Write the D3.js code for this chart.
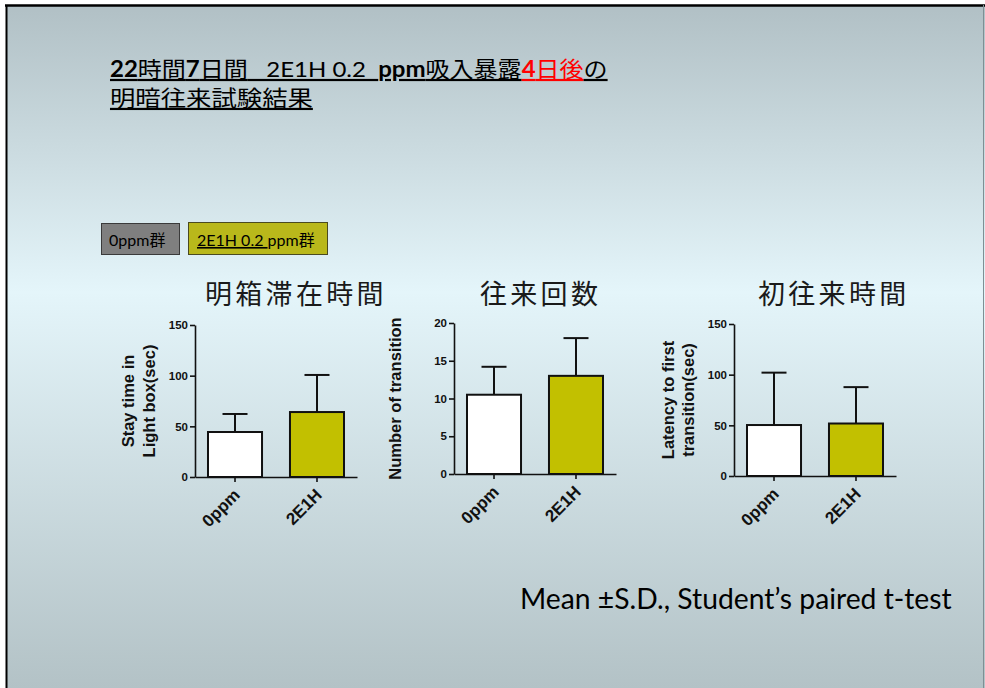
<!DOCTYPE html>
<html><head><meta charset="utf-8">
<script src="https://cdn.jsdelivr.net/npm/d3@7"></script>
<style>html,body{margin:0;padding:0;background:#fff;overflow:hidden}</style>
</head><body>
<svg id="c" width="985" height="688"></svg>
<script>
// ---- data ----
const categories = ["0ppm", "2E1H"];
const panelTitles = ["明箱滞在時間", "往来回数", "初往来時間"];
const yLabels = [["Stay time in", "Light box(sec)"], ["Number of transition"], ["Latency to first", "transition(sec)"]];
const yMax = [150, 20, 150];
const yTicks = [[0, 50, 100, 150], [0, 5, 10, 15, 20], [0, 50, 100, 150]];
const stayMean = [44.4, 64.1];
const staySD = [17.8, 36.6];
const transMean = [10.5, 13.0];
const transSD = [3.7, 5.0];
const latencyMean = [50.3, 51.8];
const latencySD = [51.7, 35.9];
const legendLabels = ["0ppm群", "2E1H 0.2 ppm群"];
const footerText = "Mean ±S.D., Student’s paired t-test";

const means = [stayMean, transMean, latencyMean];
const sds = [staySD, transSD, latencySD];

// ---- layout ----
const W = 985, H = 688;
const panels = [
  {x: 195, top: 325, bottom: 477, titleX: 205, labelX: [-62, -41]},
  {x: 454, top: 323, bottom: 474, titleX: 480, labelX: [-54]},
  {x: 734, top: 324, bottom: 476, titleX: 758, labelX: [-61, -41]}
];
const plotW = 162;
const barFill = ["#ffffff", "#c2c000"];
const ink = "#111";

const svg = d3.select("#c");
const defs = svg.append("defs");
const grad = defs.append("linearGradient").attr("id", "bg").attr("x1", 0).attr("y1", 0).attr("x2", 0).attr("y2", 1);
grad.append("stop").attr("offset", "0%").attr("stop-color", "#b1c0c5");
grad.append("stop").attr("offset", "42%").attr("stop-color", "#e4f5fa");
grad.append("stop").attr("offset", "100%").attr("stop-color", "#b3c2c6");

svg.append("rect").attr("width", W).attr("height", H).attr("fill", "#fff");
svg.append("rect").attr("x", 6).attr("y", 5).attr("width", W - 6).attr("height", H - 5).attr("fill", "url(#bg)");
svg.append("line").attr("x1", 5).attr("x2", W).attr("y1", 5.5).attr("y2", 5.5).attr("stroke", "#000").attr("stroke-width", 2.5);
svg.append("line").attr("x1", 6.5).attr("x2", 6.5).attr("y1", 5).attr("y2", H).attr("stroke", "#000").attr("stroke-width", 2);
svg.append("line").attr("x1", 983.5).attr("x2", 983.5).attr("y1", 5).attr("y2", H).attr("stroke", "#7f8f94").attr("stroke-width", 1);

// ---- header ----
const cjk = "Lato, 'Noto Sans CJK JP', sans-serif";
function fitX(sel, x0, target) {
  const w = sel.node().getComputedTextLength();
  const k = target / w;
  sel.attr("transform", `translate(${x0},0) scale(${k},1) translate(${-x0},0)`);
}
const h1 = svg.append("text").attr("x", 110).attr("y", 77).attr("font-family", cjk).attr("font-size", 22).attr("fill", "#000")
  .style("white-space", "pre");
const segs = [
  ["22", true, "#000"], ["時間", false, "#000"], ["7", true, "#000"], ["日間", false, "#000"],
  ["\u00a0\u00a0 2E1H 0.2 \u00a0", false, "#000"], ["ppm", true, "#000"], ["吸入暴露", false, "#000"],
  ["4", true, "#ff0000"], ["日後", false, "#ff0000"], ["の", false, "#000"]
];
segs.forEach(s => h1.append("tspan").text(s[0]).attr("font-weight", s[1] ? "bold" : "normal")
  .attr("fill", s[2]).style("text-decoration", "underline"));
fitX(h1, 110, 498);
const h2 = svg.append("text").attr("x", 110).attr("y", 106).attr("font-family", cjk).attr("font-size", 22).attr("fill", "#000")
  .style("text-decoration", "underline").text("明暗往来試験結果");
fitX(h2, 110, 203);

// ---- legend ----
const legBoxes = [{x: 101, y: 223, w: 78, h: 31, fill: "#7f7f7f", stroke: "#3a3a3a"},
                  {x: 188, y: 222, w: 139, h: 32, fill: "#b9b81b", stroke: "#4a4a20"}];
legBoxes.forEach((b, i) => {
  svg.append("rect").attr("x", b.x + 0.5).attr("y", b.y + 0.5).attr("width", b.w).attr("height", b.h)
    .attr("fill", b.fill).attr("stroke", b.stroke).attr("stroke-width", 1);
});
svg.append("text").attr("x", 109).attr("y", 246).attr("font-family", cjk).attr("font-size", 16).attr("fill", "#000").text(legendLabels[0]);
const lt = svg.append("text").attr("x", 197).attr("y", 246).attr("font-family", cjk).attr("font-size", 16).attr("fill", "#000").style("white-space", "pre");
lt.append("tspan").text("2E1H 0.2 ").style("text-decoration", "underline");
lt.append("tspan").text(legendLabels[1].replace("2E1H 0.2 ", ""));

// ---- panels ----
panels.forEach((p, i) => {
  const g = svg.append("g");
  const x = d3.scaleBand().domain(categories).range([p.x, p.x + plotW]).paddingInner(0.341).paddingOuter(0.1585);
  const y = d3.scaleLinear().domain([0, yMax[i]]).range([p.bottom, p.top]);

  // title
  g.append("text").attr("x", p.titleX).attr("y", 304).attr("font-family", "'Noto Sans CJK JP', sans-serif")
    .attr("font-size", 27).attr("letter-spacing", 3.3).attr("fill", "#1a1a1a").text(panelTitles[i]);

  // y label
  yLabels[i].forEach((t, j) => {
    const lx = p.x + p.labelX[j] + 1, ly = (p.top + p.bottom) / 2;
    g.append("text").attr("transform", `translate(${lx},${ly}) rotate(-90)`).attr("text-anchor", "middle")
      .attr("font-family", "'Liberation Sans', Arial, sans-serif").attr("font-weight", "bold").attr("font-size", 16.5)
      .attr("fill", ink).text(t);
  });

  const data = categories.map((c, k) => ({c, m: means[i][k], s: sds[i][k], k}));
  // error bars
  const eb = g.selectAll(".eb").data(data).enter().append("g");
  eb.append("line").attr("x1", d => x(d.c) + x.bandwidth() / 2).attr("x2", d => x(d.c) + x.bandwidth() / 2)
    .attr("y1", d => y(d.m)).attr("y2", d => y(d.m + d.s)).attr("stroke", ink).attr("stroke-width", 2);
  eb.append("line").attr("x1", d => x(d.c) + x.bandwidth() / 2 - 12.5).attr("x2", d => x(d.c) + x.bandwidth() / 2 + 12.5)
    .attr("y1", d => y(d.m + d.s)).attr("y2", d => y(d.m + d.s)).attr("stroke", ink).attr("stroke-width", 2);
  // bars
  g.selectAll(".bar").data(data).enter().append("rect")
    .attr("x", d => x(d.c)).attr("width", x.bandwidth())
    .attr("y", d => y(d.m)).attr("height", d => y(0) - y(d.m))
    .attr("fill", d => barFill[d.k]).attr("stroke", ink).attr("stroke-width", 2);

  // axes
  const ya = g.append("g").attr("transform", `translate(${p.x},0)`)
    .call(d3.axisLeft(y).tickValues(yTicks[i]).tickSize(5).tickSizeOuter(0).tickPadding(2));
  ya.select(".domain").attr("stroke", ink).attr("stroke-width", 1.6);
  ya.selectAll(".tick line").attr("stroke", ink).attr("stroke-width", 1.6);
  ya.selectAll(".tick text").attr("font-family", "'Liberation Sans', Arial, sans-serif").attr("font-weight", "bold")
    .attr("font-size", 11.5).attr("fill", ink);

  const xa = g.append("g").attr("transform", `translate(0,${p.bottom})`)
    .call(d3.axisBottom(x).tickSize(5).tickSizeOuter(0));
  xa.select(".domain").attr("stroke", ink).attr("stroke-width", 1.6);
  xa.selectAll(".tick line").attr("stroke", ink).attr("stroke-width", 1.6);
  xa.selectAll(".tick text").attr("font-family", "'Liberation Sans', Arial, sans-serif").attr("font-weight", "bold")
    .attr("font-size", 17).attr("fill", ink).attr("text-anchor", "end")
    .attr("y", 0).attr("dy", 0).attr("transform", "translate(6,19) rotate(-45)");
});

// ---- footer ----
const ft = svg.append("text").attr("x", 520).attr("y", 609).attr("font-family", "Lato, 'Open Sans', sans-serif")
  .attr("font-size", 25).attr("fill", "#000").text(footerText);
const fw = ft.node().getComputedTextLength();
ft.attr("font-size", 25 * 432 / fw);
</script>
</body></html>
